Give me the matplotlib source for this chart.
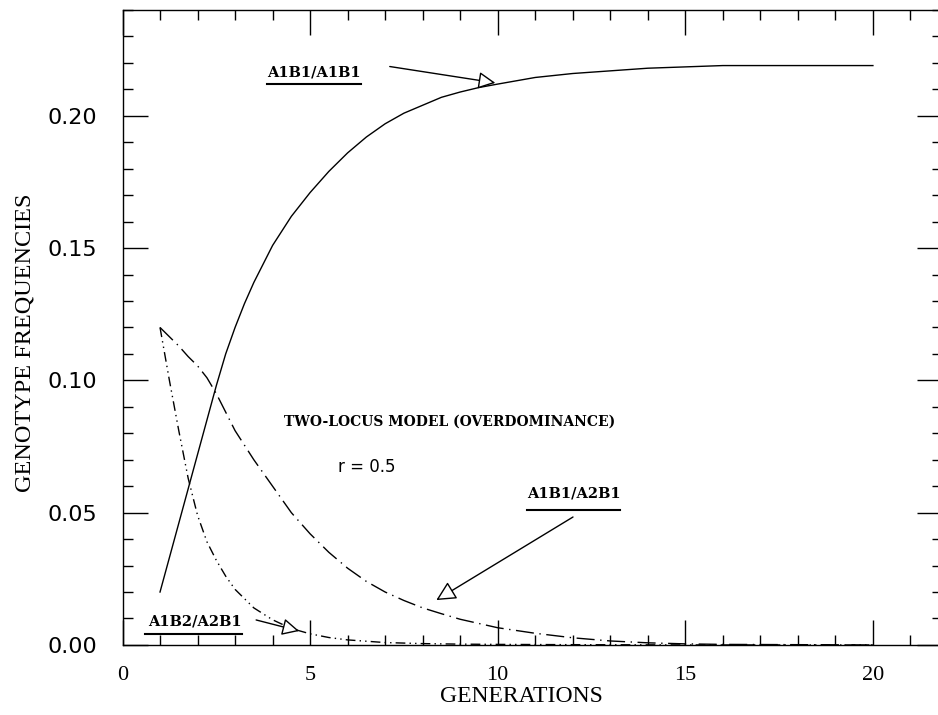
import matplotlib.pyplot as plt
import numpy as np
from matplotlib.ticker import MultipleLocator

# A1B1/A1B1 (solid)
gen_a = [1, 1.25, 1.5, 1.75, 2, 2.25, 2.5, 2.75, 3, 3.25, 3.5, 3.75, 4, 4.5, 5, 5.5, 6, 6.5,
         7, 7.5, 8, 8.5, 9, 9.5, 10, 11, 12, 13, 14, 15, 16, 18, 20]
freq_a = [0.020, 0.033, 0.046, 0.059, 0.072, 0.085, 0.098, 0.110, 0.120, 0.129, 0.137, 0.144,
          0.151, 0.162, 0.171, 0.179, 0.186, 0.192, 0.197, 0.201, 0.204, 0.207, 0.209, 0.2107,
          0.212, 0.2145, 0.216, 0.217, 0.218, 0.2185, 0.219, 0.219, 0.219]

# A1B1/A2B1 (dashed)
gen_b = [1, 1.25, 1.5, 1.75, 2, 2.25, 2.5, 2.75, 3, 3.5, 4, 4.5, 5, 5.5, 6, 6.5, 7, 7.5, 8,
         8.5, 9, 10, 11, 12, 13, 14, 15, 16, 18, 20]
freq_b = [0.120, 0.1165, 0.113, 0.109, 0.1055, 0.101, 0.095, 0.088, 0.081, 0.070, 0.060, 0.050,
          0.042, 0.035, 0.029, 0.024, 0.020, 0.0168, 0.014, 0.0118, 0.0097, 0.0065, 0.0044,
          0.0027, 0.0015, 0.0008, 0.0004, 0.0002, 0.0001, 0.0]

# A1B2/A2B1 (dash-dot)
gen_c = [1, 1.25, 1.5, 1.75, 2, 2.25, 2.5, 2.75, 3, 3.5, 4, 4.5, 5, 5.5, 6, 7, 8, 9, 10, 12,
         15, 20]
freq_c = [0.120, 0.100, 0.081, 0.063, 0.049, 0.039, 0.032, 0.026, 0.021, 0.014, 0.0095, 0.0062,
          0.0042, 0.0028, 0.0019, 0.0009, 0.0005, 0.0003, 0.0002, 0.0001, 0.0, 0.0]

xticks = [0, 5, 10, 15, 20]
yticks = [0.00, 0.05, 0.10, 0.15, 0.20]

fig = plt.figure(figsize=(9.38, 7.15), dpi=100)
ax = fig.add_axes([0.1306, 0.098, 0.874, 0.888])

ax.plot(gen_a, freq_a, '-', color='black', lw=1.0)
ax.plot(gen_b, freq_b, color='black', lw=1.0, linestyle=(0, (13, 4, 1, 4)))
ax.plot(gen_c, freq_c, color='black', lw=1.0, linestyle=(0, (7, 3, 1, 3, 1, 3)))

ax.set_xlim(0, 21.85)
ax.set_ylim(0, 0.24)
ax.set_xticks(xticks)
ax.set_yticks(yticks)
ax.set_xticklabels([str(t) for t in xticks], family='Liberation Serif', fontsize=16)
ax.set_yticklabels(['%.2f' % t for t in yticks], family='DejaVu Sans', fontsize=16)
ax.xaxis.set_minor_locator(MultipleLocator(1))
ax.yaxis.set_minor_locator(MultipleLocator(0.01))
ax.tick_params(which='both', direction='in', top=True, right=True, width=1.0)
ax.tick_params(which='major', length=18)
ax.tick_params(which='minor', length=7)
ax.tick_params(axis='y', which='major', pad=18)
ax.tick_params(axis='x', which='major', pad=15)
for s in ax.spines.values():
    s.set_linewidth(1.0)

ax.set_xlabel('GENERATIONS', family='Liberation Serif', fontsize=17, va='center')
ax.xaxis.set_label_coords(0.487, -0.082)
ax.set_ylabel('GENOTYPE FREQUENCIES', family='Liberation Serif', fontsize=17.5)
ax.yaxis.set_label_coords(-0.106, 0.476)

lab = dict(family='DejaVu Serif', fontweight='bold', fontsize=10.5, ha='center', va='center')

# labels with underline and arrow
ax.text(5.11, 0.2162, 'A1B1/A1B1', **lab)
ax.plot([3.85, 6.36], [0.212, 0.212], color='black', lw=1.5)
ax.annotate('', xy=(10.01, 0.2123), xytext=(7.05, 0.2188),
            arrowprops=dict(arrowstyle='-|>', fc='white', ec='black', lw=1.0, mutation_scale=26))

ax.text(12.03, 0.0574, 'A1B1/A2B1', **lab)
ax.plot([10.79, 13.27], [0.051, 0.051], color='black', lw=1.5)
ax.annotate('', xy=(8.30, 0.0164), xytext=(12.07, 0.0489),
            arrowprops=dict(arrowstyle='-|>', fc='white', ec='black', lw=1.0, mutation_scale=30))

ax.text(1.92, 0.0087, 'A1B2/A2B1', **lab)
ax.plot([0.6, 3.18], [0.0042, 0.0042], color='black', lw=1.5)
ax.annotate('', xy=(4.78, 0.005), xytext=(3.49, 0.0097),
            arrowprops=dict(arrowstyle='-|>', fc='white', ec='black', lw=1.0, mutation_scale=26))

ax.text(8.73, 0.0843, 'TWO-LOCUS MODEL (OVERDOMINANCE)', family='DejaVu Serif',
        fontweight='bold', fontsize=10, ha='center', va='center')
ax.text(5.75, 0.0673, 'r = 0.5', family='DejaVu Sans', fontsize=12, ha='left', va='center')

fig.savefig('out.png', dpi=100)
